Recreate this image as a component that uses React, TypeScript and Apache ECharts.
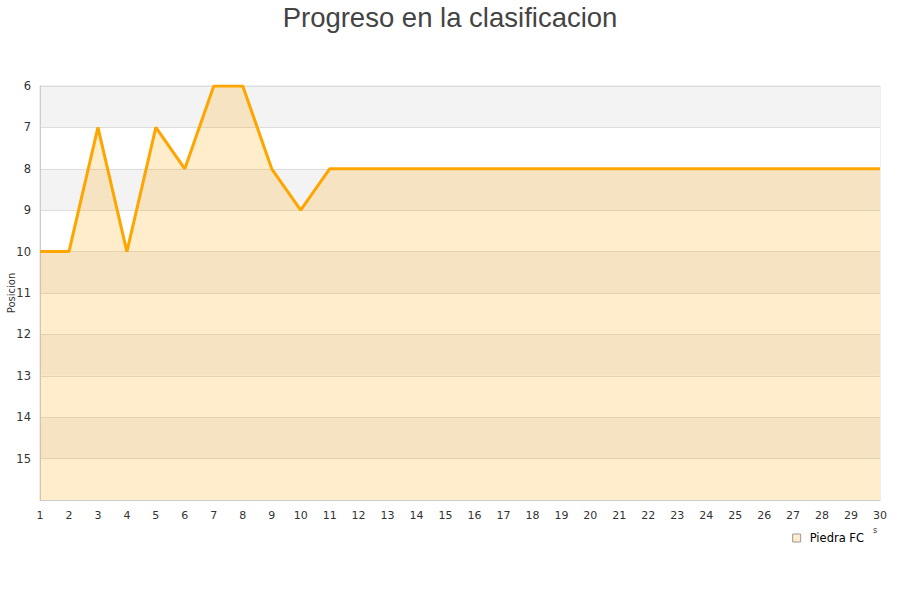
import React, { useEffect, useRef } from "react";
import * as echarts from "echarts";

const jornadas = Array.from({ length: 30 }, (_, i) => String(i + 1));
const posiciones = [10, 10, 7, 10, 7, 8, 6, 6, 8, 9, 8, 8, 8, 8, 8, 8, 8, 8, 8, 8, 8, 8, 8, 8, 8, 8, 8, 8, 8, 8];
const serieNombre = "Piedra FC";
const titulo = "Progreso en la clasificacion";
const ejeY = "Posicion";

export default function App() {
  const ref = useRef<HTMLDivElement>(null);
  useEffect(() => {
    const chart = echarts.init(ref.current!, null, { renderer: "svg" });
    chart.setOption({
      animation: false,
      title: {
        text: titulo,
        left: "center",
        top: -2,
        textStyle: { fontFamily: "Liberation Sans, Arial, sans-serif", fontSize: 27.5, fontWeight: "normal", color: "#444" },
      },
      grid: { left: 40, right: 20, top: 86, bottom: 100, show: true, borderColor: "#ddd", borderWidth: 1, containLabel: false, outerBoundsMode: "none" },
      legend: {
        data: [{ name: serieNombre, icon: "rect", itemStyle: { color: "#ffeccc", borderColor: "#999", borderWidth: 1 } }],
        right: 31,
        top: 527,
        itemWidth: 8,
        itemHeight: 8,
        textStyle: { fontFamily: "DejaVu Sans, sans-serif", fontSize: 11.5, color: "#000", padding: [0, 0, 0, 4] },
      },
      xAxis: {
        type: "category",
        data: jornadas,
        boundaryGap: false,
        axisLine: { lineStyle: { color: "#ccc" } },
        axisTick: { show: false },
        axisLabel: { color: "#333", fontFamily: "DejaVu Sans, sans-serif", fontSize: 11, margin: 10, interval: 0 },
        splitLine: { show: false },
      },
      yAxis: {
        type: "value",
        inverse: true,
        min: 6,
        max: 16,
        interval: 1,
        axisLine: { show: true, lineStyle: { color: "#ccc" } },
        axisTick: { show: false },
        axisLabel: {
          color: "#333",
          fontFamily: "DejaVu Sans, sans-serif",
          fontSize: 11.5,
          margin: 9,
          formatter: (v: number) => (v === 16 ? "" : String(v)),
        },
        splitLine: { show: true, lineStyle: { color: "#ddd" } },
        splitArea: { show: true, areaStyle: { color: ["#f3f3f3", "#ffffff"] } },
      },
      graphic: [
        {
          type: "text",
          x: 11,
          y: 293,
          rotation: Math.PI / 2,
          style: { text: ejeY, fontSize: 10, fill: "#333", fontFamily: "DejaVu Sans, sans-serif", align: "center", verticalAlign: "middle" },
        },
        { type: "text", x: 873, y: 526, style: { text: "s", fontSize: 8, fill: "#333", fontFamily: "DejaVu Sans, sans-serif" } },
      ],
      series: [
        {
          name: serieNombre,
          type: "line",
          data: posiciones,
          symbol: "none",
          lineStyle: { color: "#ffa500", width: 3 },
          itemStyle: { color: "#ffa500" },
          areaStyle: { color: "rgba(255,165,0,0.2)", opacity: 1, origin: "end" },
        },
      ],
    });
    return () => chart.dispose();
  }, []);
  return <div ref={ref} style={{ width: 900, height: 600, position: "absolute", left: 0, top: 0 }} />;
}
